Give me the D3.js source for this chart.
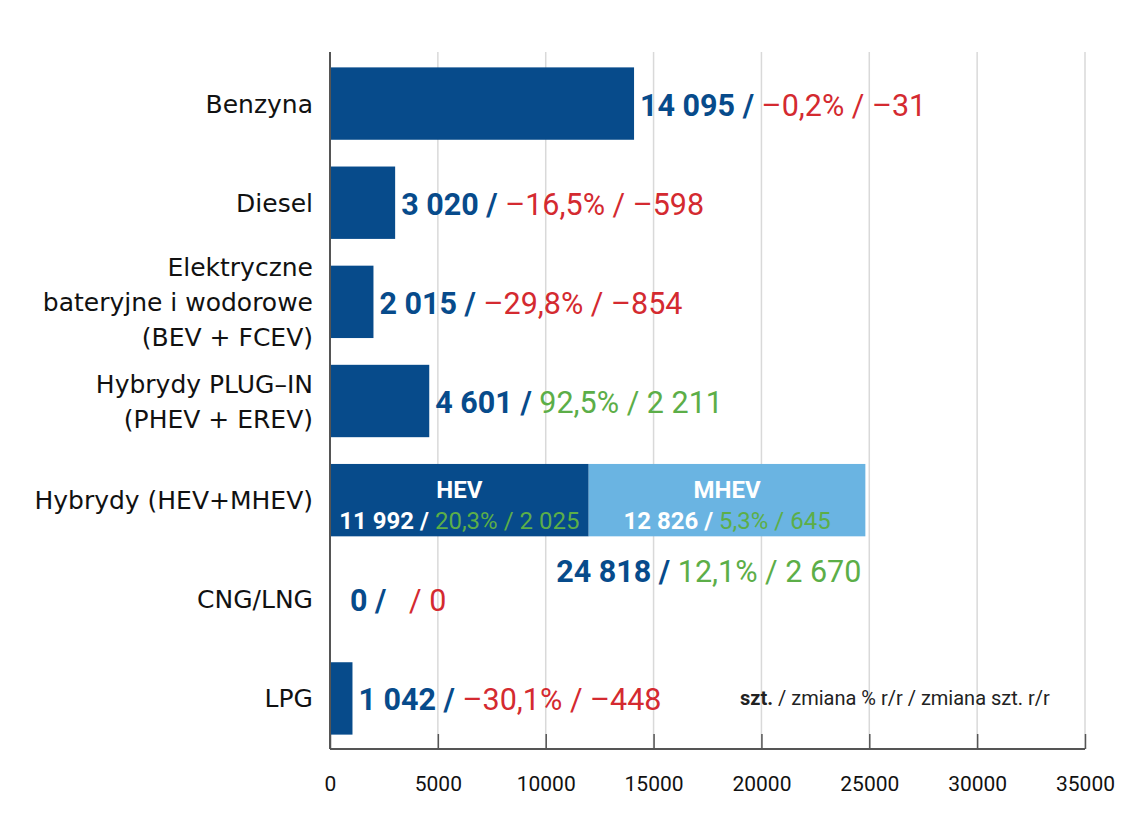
<!DOCTYPE html>
<html>
<head>
<meta charset="utf-8">
<script src="https://cdn.jsdelivr.net/npm/d3@7"></script>
<style>
  body { margin: 0; background: #fff; }
  svg { display: block; }
  .val { font-family: Roboto, "Open Sans", sans-serif; }
</style>
</head>
<body>
<div class="chartInner"></div>
<script>
//Colors
var darkBlue = "#074b8b";
var lightBlue = "#6ab4e2";
var red = "#d42a30";
var green = "#5cae48";
var textColor = "#111";

// Data
var categories = [
  "Benzyna",
  "Diesel",
  "Elektryczne\nbateryjne i wodorowe\n(BEV + FCEV)",
  "Hybrydy PLUG–IN\n(PHEV + EREV)",
  "Hybrydy (HEV+MHEV)",
  "CNG/LNG",
  "LPG"
];
var units = [14095, 3020, 2015, 4601, 24818, 0, 1042];
var pctChange = [-0.2, -16.5, -29.8, 92.5, 12.1, null, -30.1];
var unitChange = [-31, -598, -854, 2211, 2670, 0, -448];

var hybridParts = ["HEV", "MHEV"];
var hybridUnits = [11992, 12826];
var hybridPct = [20.3, 5.3];
var hybridChange = [2025, 645];

var xTicks = [0, 5000, 10000, 15000, 20000, 25000, 30000, 35000];

var W = 1140, H = 840;
var mLeft = 330, mRight = 1085, mTop = 52, mBottom = 749;

var svg = d3.select(".chartInner").append("svg").attr("width", W).attr("height", H);

var x = d3.scaleLinear().domain([0, 35000]).range([mLeft, mRight]);
var y = d3.scaleBand().domain(categories).range([mTop + 2, mBottom - 1])
  .paddingInner(0.27).paddingOuter(0.135);

var locale = d3.formatLocale({ decimal: ",", thousands: " ", grouping: [3], currency: ["", ""] });
var fmtInt = locale.format(",d");
var fmtPct = function (v) { return (v < 0 ? "–" : "") + locale.format(".1f")(Math.abs(v)) + "%"; };
var fmtDiff = function (v) { return (v < 0 ? "–" : "") + fmtInt(Math.abs(v)); };

// gridlines
svg.append("g").selectAll("line").data(xTicks.slice(1)).enter().append("line")
  .attr("x1", d => x(d)).attr("x2", d => x(d))
  .attr("y1", mTop).attr("y2", mBottom)
  .attr("stroke", "#d9d9d9").attr("stroke-width", 1.5);

// bottom axis
var xAxis = svg.append("g").attr("transform", "translate(0," + mBottom + ")")
  .call(d3.axisBottom(x).tickValues(xTicks).tickSize(-15).tickPadding(0).tickFormat(d3.format("d")));
xAxis.select(".domain").attr("stroke", "#555").attr("stroke-width", 2).attr("d", "M" + mLeft + ",0H" + mRight);
xAxis.selectAll(".tick line").attr("stroke", "#555").attr("stroke-width", 1.5);
xAxis.selectAll(".tick text").attr("class", "val").attr("y", 27)
  .attr("font-size", "21px").attr("fill", "#111");

// left axis line
svg.append("line").attr("x1", mLeft).attr("x2", mLeft).attr("y1", mTop).attr("y2", mBottom)
  .attr("stroke", "#555").attr("stroke-width", 2);

// bars (all except the stacked hybrid)
var plain = categories.map((c, i) => i).filter(i => i !== 4);
svg.append("g").selectAll("rect").data(plain).enter().append("rect")
  .attr("x", x(0) + 1).attr("y", i => y(categories[i]))
  .attr("width", i => Math.max(0, x(units[i]) - x(0) - 1))
  .attr("height", y.bandwidth())
  .attr("fill", darkBlue);

// stacked hybrid bar
var hyb = categories[4];
var starts = [0, hybridUnits[0]];
var hg = svg.append("g");
hg.selectAll("rect").data(hybridParts).enter().append("rect")
  .attr("x", (d, i) => x(starts[i]) + (i === 0 ? 1 : 0))
  .attr("y", y(hyb))
  .attr("width", (d, i) => x(starts[i] + hybridUnits[i]) - x(starts[i]) - (i === 0 ? 1 : 0))
  .attr("height", y.bandwidth())
  .attr("fill", (d, i) => i === 0 ? darkBlue : lightBlue);

hybridParts.forEach((p, i) => {
  var cx = (x(starts[i]) + x(starts[i] + hybridUnits[i])) / 2;
  hg.append("text").attr("class", "val").attr("x", cx).attr("y", y(hyb) + 34)
    .attr("text-anchor", "middle").attr("font-size", "24px").attr("font-weight", "bold")
    .attr("fill", "#fff").text(p);
  var t = hg.append("text").attr("class", "val").attr("x", cx).attr("y", y(hyb) + 65)
    .attr("text-anchor", "middle").attr("font-size", "24px");
  t.append("tspan").attr("font-weight", "bold").attr("fill", "#fff").text(fmtInt(hybridUnits[i]) + " / ");
  t.append("tspan").attr("fill", green).text(fmtPct(hybridPct[i]) + " / " + fmtInt(hybridChange[i]));
});

// value labels
function valueLabel(t, i) {
  var col = unitChange[i] > 0 ? green : red;
  t.append("tspan").attr("font-weight", "bold").attr("fill", darkBlue).text(fmtInt(units[i]) + " / ");
  t.append("tspan").attr("fill", col)
    .text((pctChange[i] === null ? "  " : fmtPct(pctChange[i]) + " ") + "/ " + fmtDiff(unitChange[i]));
}
plain.forEach(i => {
  var t = svg.append("text").attr("class", "val")
    .attr("x", x(units[i]) + (units[i] > 0 ? 6 : 20))
    .attr("y", y(categories[i]) + y.bandwidth() / 2 + 12)
    .attr("font-size", "30.5px").style("white-space", "pre");
  valueLabel(t, i);
});
var tt = svg.append("text").attr("class", "val")
  .attr("x", x(units[4]) - 4).attr("y", y(hyb) + y.bandwidth() + 46)
  .attr("text-anchor", "end").attr("font-size", "30.5px");
valueLabel(tt, 4);

// category labels
categories.forEach(c => {
  var lines = c.split("\n");
  var cy = y(c) + y.bandwidth() / 2;
  var lh = 35;
  var t = svg.append("text").attr("x", 313).attr("text-anchor", "end")
    .attr("font-family", "'DejaVu Sans', sans-serif").attr("font-size", "25px").attr("fill", textColor);
  lines.forEach((l, k) => {
    t.append("tspan").attr("x", 313)
      .attr("y", cy + 9 + (k - (lines.length - 1) / 2) * lh).text(l);
  });
});

// legend note
var note = svg.append("text").attr("x", 740).attr("y", 705)
  .attr("font-family", "Roboto, sans-serif").attr("font-size", "20px").attr("fill", "#222");
note.append("tspan").attr("font-weight", "bold").text("szt.");
note.append("tspan").text(" / zmiana % r/r / zmiana szt. r/r");
</script>
</body>
</html>
